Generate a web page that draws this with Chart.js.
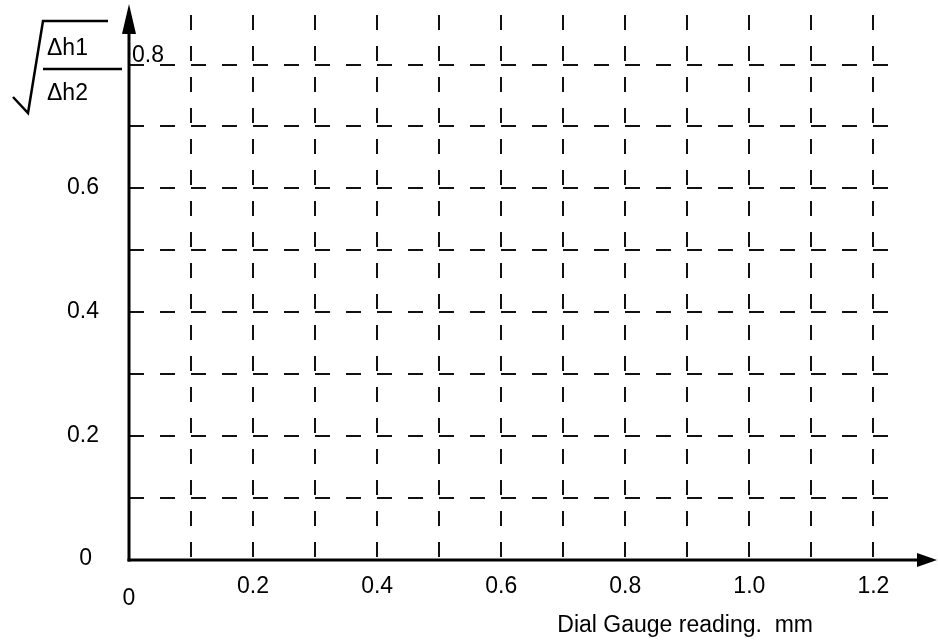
<!DOCTYPE html>
<html>
<head>
<meta charset="utf-8">
<script src="https://cdn.jsdelivr.net/npm/chart.js@4/dist/chart.umd.min.js"></script>
<style>
html,body{margin:0;padding:0;background:#fff;}
#wrap{width:938px;height:641px;}
</style>
</head>
<body>
<div id="wrap"><canvas id="c" width="938" height="641"></canvas></div>
<script>
// ---- data ----
const xGridValues = [0.1, 0.2, 0.3, 0.4, 0.5, 0.6, 0.7, 0.8, 0.9, 1.0, 1.1, 1.2];
const yGridValues = [0.1, 0.2, 0.3, 0.4, 0.5, 0.6, 0.7, 0.8];
const xTickValues = [0, 0.2, 0.4, 0.6, 0.8, 1.0, 1.2];
const xTickLabels = ['0', '0.2', '0.4', '0.6', '0.8', '1.0', '1.2'];
const yTickValues = [0, 0.2, 0.4, 0.6, 0.8];
const yTickLabels = ['0', '0.2', '0.4', '0.6', '0.8'];
const xTitle = 'Dial Gauge reading.  mm';
const yTitleNumerator = '\u0394h1';
const yTitleDenominator = '\u0394h2';
const seriesPoints = []; // the reference is an empty graph sheet

const FONT = '23px "Liberation Sans", Arial, sans-serif';

const overlay = {
  id: 'overlay',
  afterDraw(chart) {
    const { ctx, scales: { x, y } } = chart;
    const x0 = x.getPixelForValue(0);
    const y0 = y.getPixelForValue(0);
    const W = chart.width;
    ctx.save();
    ctx.setLineDash([]);
    ctx.strokeStyle = '#000';
    ctx.fillStyle = '#000';
    // axes
    ctx.lineWidth = 3;
    ctx.beginPath(); ctx.moveTo(x0, y0 + 1.5); ctx.lineTo(x0, 30); ctx.stroke();
    ctx.beginPath(); ctx.moveTo(x0, 4); ctx.lineTo(x0 - 7, 34); ctx.lineTo(x0 + 7, 34); ctx.closePath(); ctx.fill();
    ctx.beginPath(); ctx.moveTo(x0 - 1.5, y0); ctx.lineTo(W - 18, y0); ctx.stroke();
    ctx.beginPath(); ctx.moveTo(W - 1, y0); ctx.lineTo(W - 21, y0 - 7); ctx.lineTo(W - 21, y0 + 7); ctx.closePath(); ctx.fill();

    // tick labels
    ctx.font = FONT;
    ctx.textBaseline = 'alphabetic';
    yTickValues.forEach((v, i) => {
      const py = y.getPixelForValue(v);
      if (i === yTickValues.length - 1) {
        ctx.textAlign = 'left';
        ctx.fillText(yTickLabels[i], x0 + 3, py - 3);
      } else if (v === 0) {
        ctx.textAlign = 'right';
        ctx.fillText(yTickLabels[i], x0 - 37, py + 5);
      } else {
        ctx.textAlign = 'right';
        ctx.fillText(yTickLabels[i], x0 - 30, py + 6);
      }
    });
    ctx.textAlign = 'center';
    xTickValues.forEach((v, i) => {
      const px = x.getPixelForValue(v);
      ctx.fillText(xTickLabels[i], px, v === 0 ? y0 + 45 : y0 + 33);
    });
    // x title
    ctx.textAlign = 'right';
    ctx.fillText(xTitle, 813, y0 + 72);

    // y title: sqrt(Δh1 / Δh2)
    ctx.textAlign = 'left';
    ctx.fillText(yTitleNumerator, 47, 55);
    ctx.fillText(yTitleDenominator, 47, 100);
    ctx.lineWidth = 2.5;
    ctx.beginPath(); ctx.moveTo(43, 69); ctx.lineTo(122, 69); ctx.stroke();
    ctx.lineJoin = 'miter';
    ctx.beginPath();
    ctx.moveTo(13, 97); ctx.lineTo(28, 113); ctx.lineTo(43, 21); ctx.lineTo(108, 21);
    ctx.stroke();
    ctx.restore();
  }
};

new Chart(document.getElementById('c'), {
  type: 'scatter',
  data: { datasets: [{ data: seriesPoints, showLine: false, pointRadius: 0 }] },
  options: {
    responsive: false,
    animation: false,
    devicePixelRatio: 1,
    layout: { padding: { left: 129, right: 46, top: 15, bottom: 81 } },
    plugins: { legend: { display: false }, tooltip: { enabled: false } },
    scales: {
      x: {
        type: 'linear', min: 0, max: 1.23,
        afterBuildTicks: s => { s.ticks = xGridValues.map(v => ({ value: v })); },
        ticks: { display: false },
        grid: { color: '#111', lineWidth: 2, drawTicks: false },
        border: { display: false, dash: [15, 16], dashOffset: 0 }
      },
      y: {
        type: 'linear', min: 0, max: 0.88,
        afterBuildTicks: s => { s.ticks = yGridValues.map(v => ({ value: v })); },
        ticks: { display: false },
        grid: { color: '#111', lineWidth: 2, drawTicks: false },
        border: { display: false, dash: [15, 16], dashOffset: 0 }
      }
    }
  },
  plugins: [overlay]
});
</script>
</body>
</html>
